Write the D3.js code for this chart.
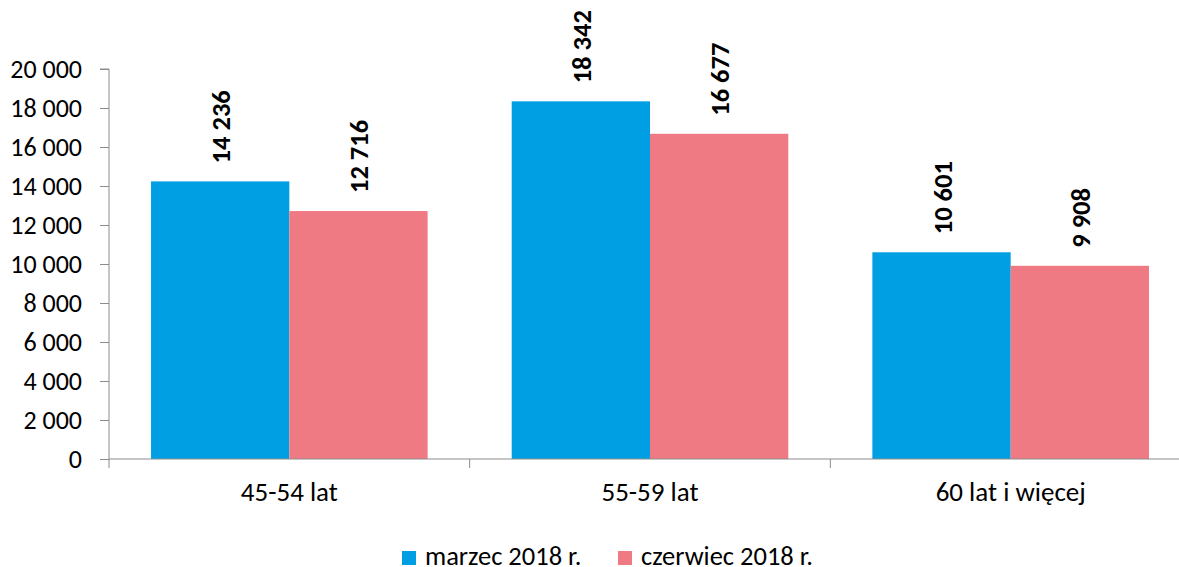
<!DOCTYPE html>
<html>
<head>
<meta charset="utf-8">
<script src="https://cdn.jsdelivr.net/npm/d3@7"></script>
<style>
  body { margin: 0; background: #fff; }
  svg text { font-family: Carlito, Calibri, "Open Sans", sans-serif; }
</style>
</head>
<body>
<script>
var width = 1179;
var height = 567;

var categories = ['45-54 lat', '55-59 lat', '60 lat i więcej'];
var seriesNames = ['marzec 2018 r.', 'czerwiec 2018 r.'];
var marzec = [14236, 18342, 10601];
var czerwiec = [12716, 16677, 9908];
var yTicks = [0, 2000, 4000, 6000, 8000, 10000, 12000, 14000, 16000, 18000, 20000];
var colors = ['#009fe3', '#f07a84'];

var plotLeft = 109, plotRight = 1191, plotTop = 69, plotBottom = 459;
var fontSize = 26;
var axisColor = '#8c8c8c';

var fmt = function(v) {
  return d3.format(',')(v).replace(/,/g, ' ');
};

var svg = d3.select('body').append('svg')
  .attr('width', width)
  .attr('height', height);

var x = d3.scaleBand().domain(categories).range([plotLeft, plotRight]).paddingInner(0).paddingOuter(0);
var inner = d3.scaleBand().domain(seriesNames).range([0, x.bandwidth()]).paddingOuter(0.304).paddingInner(0);
var y = d3.scaleLinear().domain([0, 20000]).range([plotBottom, plotTop]);

// y axis
var yAxis = svg.append('g')
  .attr('transform', 'translate(' + plotLeft + ',0)')
  .call(d3.axisLeft(y).tickValues(yTicks).tickSize(9).tickPadding(18).tickFormat(fmt));
yAxis.attr('font-family', null);
yAxis.select('.domain').attr('stroke', axisColor).attr('d', 'M-9,' + plotTop + 'H0V' + plotBottom);
yAxis.selectAll('.tick line').attr('stroke', axisColor);
yAxis.selectAll('.tick text').attr('font-size', fontSize).attr('fill', '#000');

// bars
var data = [];
categories.forEach(function(c, i) {
  data.push({ cat: c, s: seriesNames[0], v: marzec[i], col: colors[0] });
  data.push({ cat: c, s: seriesNames[1], v: czerwiec[i], col: colors[1] });
});

svg.selectAll('rect.bar').data(data).enter().append('rect')
  .attr('class', 'bar')
  .attr('x', function(d) { return x(d.cat) + inner(d.s); })
  .attr('y', function(d) { return y(d.v); })
  .attr('width', inner.bandwidth())
  .attr('height', function(d) { return plotBottom - y(d.v); })
  .attr('fill', function(d) { return d.col; });

// value labels
svg.selectAll('text.val').data(data).enter().append('text')
  .attr('class', 'val')
  .attr('transform', function(d) {
    var cx = x(d.cat) + inner(d.s) + inner.bandwidth() / 2;
    return 'translate(' + (cx + 10) + ',' + (y(d.v) - 18) + ') rotate(-90)';
  })
  .attr('font-size', 26.5)
  .attr('font-weight', 'bold')
  .attr('fill', '#000')
  .text(function(d) { return fmt(d.v); });

// x axis
var xAxis = svg.append('g')
  .attr('transform', 'translate(0,' + plotBottom + ')')
  .call(d3.axisBottom(x).tickSize(0).tickPadding(23));
xAxis.attr('font-family', null);
xAxis.select('.domain').attr('stroke', axisColor).attr('d', 'M' + plotLeft + ',0H' + plotRight);
xAxis.selectAll('.tick text').attr('font-size', 27).attr('fill', '#000');
svg.append('g').selectAll('line').data(categories.concat(['end'])).enter().append('line')
  .attr('x1', function(d, i) { return plotLeft + i * x.bandwidth(); })
  .attr('x2', function(d, i) { return plotLeft + i * x.bandwidth(); })
  .attr('y1', plotBottom)
  .attr('y2', plotBottom + 9)
  .attr('stroke', axisColor);

// legend
var legendX = [402, 618];
var legend = svg.selectAll('g.leg').data(seriesNames).enter().append('g')
  .attr('class', 'leg')
  .attr('transform', function(d, i) { return 'translate(' + legendX[i] + ',551)'; });
legend.append('rect')
  .attr('width', 14).attr('height', 14)
  .attr('fill', function(d, i) { return colors[i]; });
legend.append('text')
  .attr('x', 23).attr('y', 14)
  .attr('font-size', 26.5)
  .attr('fill', '#000')
  .text(function(d) { return d; });
</script>
</body>
</html>
